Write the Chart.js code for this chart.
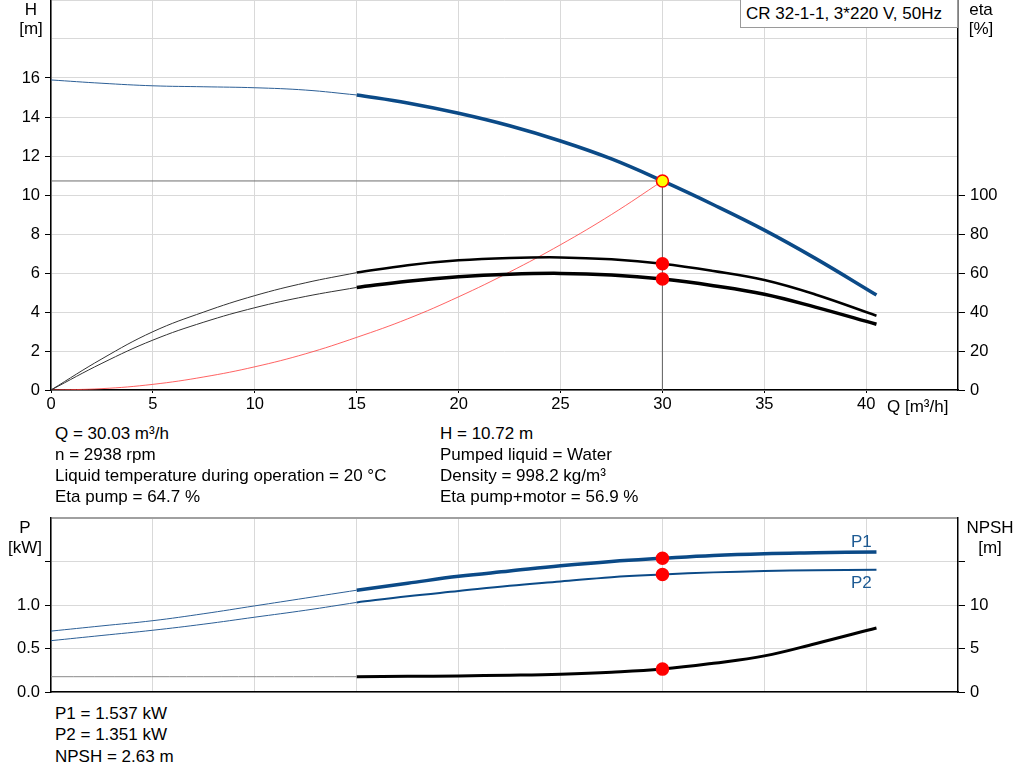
<!DOCTYPE html>
<html>
<head>
<meta charset="utf-8">
<script src="https://cdn.jsdelivr.net/npm/chart.js@4.4.1/dist/chart.umd.min.js"></script>
<style>
  body { margin: 0; width: 1024px; height: 781px; background: #fff; position: relative; overflow: hidden;
         font-family: "Liberation Sans", Arial, sans-serif; font-size: 17px; color: #000; }
  canvas { position: absolute; left: 0; }
  .t { position: absolute; white-space: nowrap; line-height: 17px; }
  #title { position: absolute; left: 740px; top: -1px; width: 218px; height: 29px; box-sizing: border-box;
           border: 1px solid #9a9a9a; background: #fff; padding-left: 5px; line-height: 28px; }
</style>
</head>
<body>
<canvas id="top" width="1024" height="420" style="top:0"></canvas>
<canvas id="bottom" width="1024" height="200" style="top:500px"></canvas>
<div id="title">CR 32-1-1, 3*220 V, 50Hz</div>
<script>
// flow values (m3/h)
const qLow = [0, 2.5, 5, 7.5, 10, 12.5, 15];
const qHigh = [15, 17.5, 20, 22.5, 25, 27.5, 30, 32.5, 35, 37.5, 40.5];
const qSys = [0, 2.5, 5, 7.5, 10, 12.5, 15, 17.5, 20, 22.5, 25, 27.5, 30];
const qNpshLow = [0, 15];

// head H [m]
const hLow = [15.9, 15.73, 15.6, 15.55, 15.5, 15.38, 15.13];
const hHigh = [15.13, 14.72, 14.19, 13.55, 12.77, 11.85, 10.72, 9.5, 8.2, 6.75, 4.87];
// system curve [m]
const hSys = [0, 0.07, 0.29, 0.67, 1.19, 1.86, 2.7, 3.65, 4.78, 6.05, 7.45, 9.0, 10.72];

// efficiency [%]
const etaPumpLow = [0, 16, 29.9, 40, 48.4, 55, 60.2];
const etaPumpHigh = [60.2, 64, 66.5, 67.7, 68, 67, 64.7, 61, 56.4, 49, 38.1];
const etaTotLow = [0, 13.7, 25.6, 34.8, 42.2, 48, 52.6];
const etaTotHigh = [52.6, 55.8, 58.1, 59.4, 59.8, 59, 56.9, 53.5, 49.1, 42.5, 33.7];

// power [kW]
const p1Low = [0.70, 0.76, 0.82, 0.90, 0.99, 1.08, 1.17];
const p1High = [1.17, 1.25, 1.33, 1.39, 1.45, 1.50, 1.537, 1.57, 1.59, 1.60, 1.61];
const p2Low = [0.59, 0.65, 0.71, 0.78, 0.86, 0.94, 1.03];
const p2High = [1.03, 1.10, 1.16, 1.22, 1.27, 1.32, 1.351, 1.375, 1.39, 1.40, 1.405];

// NPSH [m]
const npshLow = [1.76, 1.76];
const npshHigh = [1.76, 1.8, 1.85, 1.93, 2.05, 2.27, 2.63, 3.3, 4.15, 5.55, 7.36];

// duty point
const dutyQ = 30;
const dutyH = 10.72;
const dutyEtaPump = 64.7;
const dutyEtaTot = 56.9;
const dutyP1 = 1.537;
const dutyP2 = 1.351;
const dutyNpsh = 2.63;

// ticks
const qTicks = [0, 5, 10, 15, 20, 25, 30, 35, 40];
const hTicks = [0, 2, 4, 6, 8, 10, 12, 14, 16, 18, 20];
const hTickLabels = ['0', '2', '4', '6', '8', '10', '12', '14', '16', '', ''];
const etaTicks = [0, 20, 40, 60, 80, 100];
const pTicks = [0, 0.5, 1, 1.5, 2];
const pTickLabels = ['0.0', '0.5', '1.0', '', ''];
const npshTicks = [0, 5, 10, 15];
const npshTickLabels = ['0', '5', '10', ''];

const texts = [
  ['H', 31, 15, 'c'], ['[m]', 31, 34, 'c'],
  ['eta', 981, 15, 'c'], ['[%]', 981, 34, 'c'],
  ['Q [m³/h]', 887, 412, 'l'],
  ['Q = 30.03 m³/h', 55, 439, 'l'],
  ['n = 2938 rpm', 55, 460, 'l'],
  ['Liquid temperature during operation = 20 °C', 55, 481, 'l'],
  ['Eta pump = 64.7 %', 55, 502, 'l'],
  ['H = 10.72 m', 440, 439, 'l'],
  ['Pumped liquid = Water', 440, 460, 'l'],
  ['Density = 998.2 kg/m³', 440, 481, 'l'],
  ['Eta pump+motor = 56.9 %', 440, 502, 'l'],
  ['P', 25, 533, 'c'], ['[kW]', 25, 553, 'c'],
  ['NPSH', 990, 533, 'c'], ['[m]', 990, 553, 'c'],
  ['P1 = 1.537 kW', 55, 719, 'l'],
  ['P2 = 1.351 kW', 55, 740, 'l'],
  ['NPSH = 2.63 m', 55, 762, 'l'],
];

texts.forEach(([s, x, base, al]) => {
  const d = document.createElement('div');
  d.className = 't';
  d.textContent = s;
  d.style.left = x + 'px';
  d.style.top = (base - 14.4) + 'px';
  if (al === 'c') d.style.transform = 'translateX(-50%)';
  document.body.appendChild(d);
});
[['P1', 851, 547], ['P2', 851, 588]].forEach(([s, x, base]) => {
  const d = document.createElement('div');
  d.className = 't';
  d.textContent = s;
  d.style.left = x + 'px';
  d.style.top = (base - 14.4) + 'px';
  d.style.color = '#1d5a93';
  document.body.appendChild(d);
});

const pts = (xs, ys) => xs.map((x, i) => ({ x: x, y: ys[i] }));
const setTicks = (vals) => (scale) => { scale.ticks = vals.map(v => ({ value: v })); };
const fitTo = (w, h) => (s) => {
  if (w !== null) s.width = w;
  if (h !== null) s.height = h;
  s.paddingTop = 0; s.paddingBottom = 0; s.paddingLeft = 0; s.paddingRight = 0;
};

const BLUE = '#0b4a87';
const font = { family: '"Liberation Sans", Arial, sans-serif', size: 16.5 };
const GRID = '#d9d9d9';

const line = (data, color, width, axis) => ({
  data: data, borderColor: color, borderWidth: width, yAxisID: axis,
  pointRadius: 0, fill: false, tension: 0.4
});
const dots = (data, axis, fillCol, borderCol) => ({
  data: data, yAxisID: axis, showLine: false, pointRadius: 6,
  pointBackgroundColor: fillCol, pointBorderColor: borderCol, pointBorderWidth: 1.5
});

new Chart(document.getElementById('top'), {
  type: 'line',
  data: {
    datasets: [
      dots([{ x: dutyQ, y: dutyH }], 'y', '#ffff00', '#ff0000'),
      dots([{ x: dutyQ, y: dutyEtaPump }, { x: dutyQ, y: dutyEtaTot }], 'eta', '#ff0000', '#ff0000'),
      line(pts(qLow, hLow), '#2c5f96', 1, 'y'),
      line(pts(qHigh, hHigh), BLUE, 3.5, 'y'),
      line(pts(qLow, etaPumpLow), '#333', 1, 'eta'),
      line(pts(qHigh, etaPumpHigh), '#000', 2.5, 'eta'),
      line(pts(qLow, etaTotLow), '#333', 1, 'eta'),
      line(pts(qHigh, etaTotHigh), '#000', 3.5, 'eta'),
      line(pts(qSys, hSys), 'rgba(255,60,60,0.8)', 1, 'y'),
      Object.assign(line([{ x: 0, y: dutyH }, { x: dutyQ, y: dutyH }, { x: dutyQ, y: 0 }], '#6e6e6e', 1, 'y'),
        { tension: 0 }),
    ]
  },
  options: {
    responsive: false, animation: false, events: [],
    layout: { padding: 0, autoPadding: false },
    plugins: { legend: { display: false }, tooltip: { enabled: false } },
    scales: {
      x: {
        type: 'linear', min: 0, max: 44.5,
        afterBuildTicks: setTicks(qTicks),
        afterFit: fitTo(null, 30),
        grid: { color: GRID, tickColor: '#000', tickLength: 3 },
        border: { color: '#000', width: 1.5 },
        ticks: { color: '#000', font: font, padding: 2, maxRotation: 0 }
      },
      y: {
        position: 'left', min: 0, max: 20,
        afterBuildTicks: setTicks(hTicks),
        afterFit: fitTo(51, null),
        grid: { color: GRID, tickLength: 6,
          tickColor: (c) => (c.tick && hTickLabels[hTicks.indexOf(c.tick.value)] === '' ? 'rgba(0,0,0,0)' : '#000') },
        border: { color: '#000', width: 1.5 },
        ticks: { color: '#000', font: font, padding: 5,
          callback: (v) => hTickLabels[hTicks.indexOf(v)] }
      },
      eta: {
        position: 'right', min: 0, max: 200,
        afterBuildTicks: setTicks(etaTicks),
        afterFit: fitTo(66, null),
        grid: { drawOnChartArea: false, tickColor: '#000', tickLength: 7 },
        border: { color: '#000', width: 1.5 },
        ticks: { color: '#000', font: font, padding: 5 }
      }
    }
  }
});

new Chart(document.getElementById('bottom'), {
  type: 'line',
  data: {
    datasets: [
      dots([{ x: dutyQ, y: dutyP1 }, { x: dutyQ, y: dutyP2 }], 'y', '#ff0000', '#ff0000'),
      dots([{ x: dutyQ, y: dutyNpsh }], 'npsh', '#ff0000', '#ff0000'),
      line(pts(qLow, p1Low), '#2c5f96', 1, 'y'),
      line(pts(qHigh, p1High), BLUE, 3.5, 'y'),
      line(pts(qLow, p2Low), '#2c5f96', 1, 'y'),
      line(pts(qHigh, p2High), BLUE, 2, 'y'),
      line(pts(qNpshLow, npshLow), '#8a8a8a', 1, 'npsh'),
      line(pts(qHigh, npshHigh), '#000', 3, 'npsh'),
    ]
  },
  options: {
    responsive: false, animation: false, events: [],
    layout: { padding: { top: 18, left: 0, right: 0, bottom: 0 }, autoPadding: false },
    plugins: { legend: { display: false }, tooltip: { enabled: false } },
    scales: {
      x: {
        type: 'linear', min: 0, max: 44.5,
        afterBuildTicks: setTicks(qTicks),
        afterFit: fitTo(null, 8),
        grid: { color: GRID, drawTicks: false },
        border: { color: '#000', width: 1.5 },
        ticks: { display: false }
      },
      y: {
        position: 'left', min: 0, max: 2,
        afterBuildTicks: setTicks(pTicks),
        afterFit: fitTo(51, null),
        grid: { tickLength: 6,
          color: (c) => (c.tick && c.tick.value === 2 ? '#a0a0a0' : GRID),
          lineWidth: (c) => (c.tick && c.tick.value === 2 ? 2 : 1),
          tickColor: (c) => (c.tick && c.tick.value === 2 ? 'rgba(0,0,0,0)' : '#000') },
        border: { color: '#000', width: 1.5 },
        ticks: { color: '#000', font: font, padding: 5,
          callback: (v) => pTickLabels[pTicks.indexOf(v)] }
      },
      npsh: {
        position: 'right', min: 0, max: 20,
        afterBuildTicks: setTicks(npshTicks),
        afterFit: fitTo(66, null),
        grid: { drawOnChartArea: false, tickColor: '#000', tickLength: 7 },
        border: { color: '#000', width: 1.5 },
        ticks: { color: '#000', font: font, padding: 5,
          callback: (v) => npshTickLabels[npshTicks.indexOf(v)] }
      }
    }
  }
});
</script>
</body>
</html>
